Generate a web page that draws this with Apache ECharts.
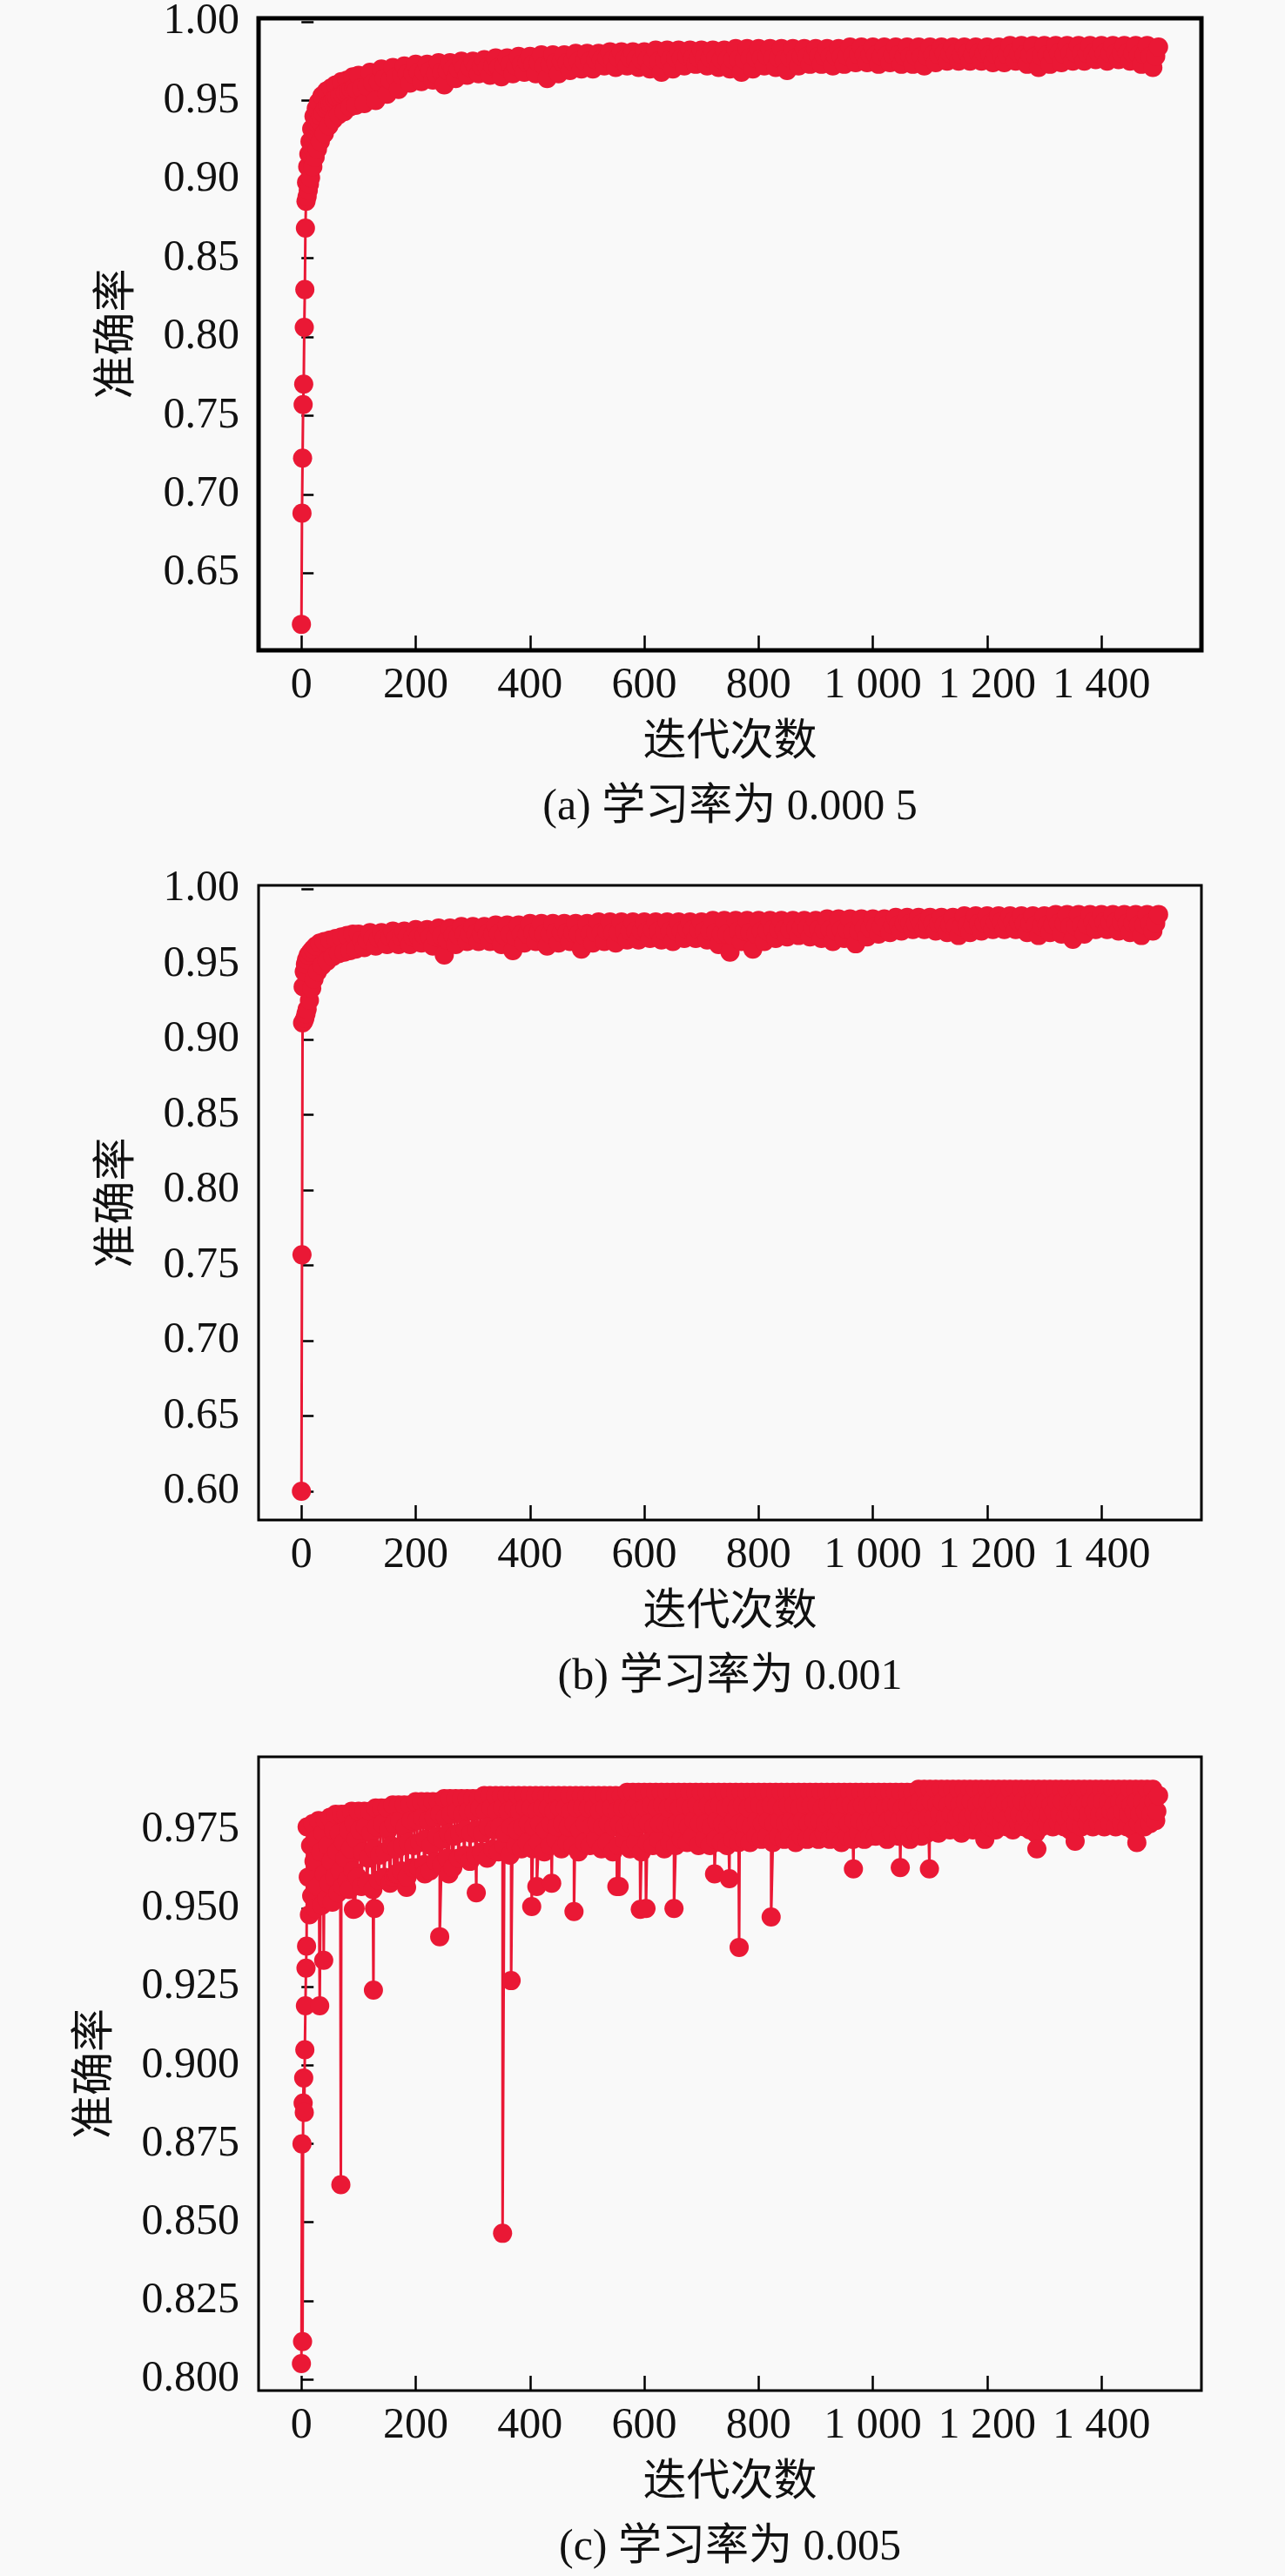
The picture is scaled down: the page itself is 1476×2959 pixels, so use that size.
<!DOCTYPE html>
<html>
<head>
<meta charset="utf-8">
<script src="https://cdn.jsdelivr.net/npm/echarts@6.0.0/dist/echarts.min.js"></script>
<style>
html,body{margin:0;padding:0;background:#f9f9f9;}
#chart{width:1476px;height:2959px;}
</style>
</head>
<body>
<div id="chart"></div>
<script>
// ---------- axis ticks ----------
const xTicks = [0, 200, 400, 600, 800, 1000, 1200, 1400];
const yTicksA = [0.65, 0.70, 0.75, 0.80, 0.85, 0.90, 0.95, 1.00];
const yTicksB = [0.60, 0.65, 0.70, 0.75, 0.80, 0.85, 0.90, 0.95, 1.00];
const yTicksC = [0.800, 0.825, 0.850, 0.875, 0.900, 0.925, 0.950, 0.975];

const xName = '迭代次数';
const yName = '准确率';
const captions = ['(a) 学习率为 0.000 5', '(b) 学习率为 0.001', '(c) 学习率为 0.005'];

// ---------- (a) learning rate 0.0005 ----------
const earlyA = [[0,0.6175],[1,0.688],[2,0.723],[3,0.757],[4,0.770],[5,0.806],[6,0.830],[7,0.869],
[8,0.886],[9,0.898],[10,0.889],[11,0.908],[12,0.893],[13,0.916],[14,0.897],[15,0.924],[16,0.901],
[17,0.915],[18,0.932],[19,0.920],[20,0.908],[21,0.925],[22,0.940],[23,0.928],[24,0.914],[25,0.930],
[26,0.945],[27,0.933],[28,0.919],[29,0.935],[30,0.949],[31,0.937],[33,0.924],[34,0.940],[36,0.953],
[38,0.942],[40,0.929],[42,0.945],[44,0.956],[46,0.947],[48,0.934],[50,0.948],[52,0.958],[54,0.949],
[56,0.938],[58,0.951],[60,0.960],[62,0.952],[65,0.941],[67,0.953],[70,0.962],[72,0.954],[75,0.943],
[77,0.955],[80,0.963],[82,0.956],[85,0.946],[87,0.957],[90,0.965],[92,0.958],[95,0.947],[97,0.957]];
// envelope points every 10 iterations from 100 (upper / lower alternately)
const bandStartA = 100, bandStepA = 10;
const bandAccA = [
0.966,0.948,0.968,0.950,0.970,0.954,0.971,0.957,0.972,0.961,
0.973,0.962,0.973,0.963,0.974,0.960,0.974,0.964,0.975,0.966,
0.975,0.967,0.976,0.966,0.977,0.965,0.977,0.967,0.978,0.968,
0.978,0.967,0.979,0.964,0.979,0.967,0.979,0.969,0.980,0.970,
0.980,0.970,0.980,0.972,0.981,0.971,0.981,0.972,0.981,0.971,
0.981,0.970,0.982,0.968,0.982,0.970,0.982,0.972,0.982,0.973,
0.982,0.972,0.982,0.971,0.982,0.970,0.983,0.968,0.983,0.970,
0.983,0.972,0.983,0.971,0.983,0.969,0.983,0.972,0.983,0.973,
0.983,0.973,0.983,0.972,0.983,0.973,0.984,0.974,0.984,0.974,
0.984,0.973,0.984,0.974,0.984,0.973,0.984,0.973,0.984,0.972,
0.984,0.974,0.984,0.975,0.984,0.975,0.984,0.975,0.984,0.975,
0.984,0.974,0.984,0.974,0.985,0.975,0.985,0.973,0.985,0.971,
0.985,0.973,0.985,0.974,0.985,0.975,0.985,0.975,0.985,0.976,
0.985,0.975,0.985,0.976,0.985,0.975,0.985,0.973,0.985,0.971,
0.984];
// band interior points at 105, 115, ... 1495
const midStartA = 105, midStepA = 10;
const midAccA = [
0.958,0.959,0.961,0.962,0.964,0.963,0.965,0.966,0.967,0.967,
0.968,0.968,0.969,0.967,0.968,0.969,0.970,0.970,0.971,0.971,
0.971,0.972,0.971,0.972,0.971,0.972,0.973,0.972,0.973,0.974,
0.973,0.974,0.972,0.973,0.974,0.975,0.974,0.975,0.975,0.975,
0.975,0.976,0.976,0.977,0.976,0.977,0.976,0.977,0.976,0.976,
0.976,0.976,0.975,0.976,0.976,0.977,0.977,0.978,0.977,0.977,
0.977,0.977,0.977,0.976,0.976,0.976,0.976,0.976,0.977,0.977,
0.977,0.978,0.977,0.977,0.976,0.977,0.977,0.978,0.978,0.978,
0.978,0.978,0.978,0.978,0.978,0.978,0.979,0.979,0.979,0.979,
0.979,0.978,0.979,0.979,0.979,0.978,0.978,0.978,0.978,0.978,
0.979,0.979,0.980,0.980,0.980,0.979,0.980,0.979,0.980,0.980,
0.979,0.979,0.979,0.979,0.980,0.980,0.979,0.979,0.978,0.978,
0.979,0.979,0.980,0.979,0.980,0.980,0.980,0.980,0.980,0.980,
0.980,0.980,0.980,0.980,0.980,0.980,0.979,0.979,0.978,0.978];

// ---------- (b) learning rate 0.001 ----------
const earlyB = [[0,0.600],[1,0.757],[2,0.911],[3,0.935],[4,0.912],[5,0.945],[6,0.914],[7,0.950],
[8,0.917],[9,0.953],[10,0.920],[12,0.956],[14,0.926],[16,0.958],[18,0.934],[20,0.960],[22,0.940],
[25,0.962],[28,0.945],[32,0.964],[36,0.949],[40,0.965],[45,0.952],[50,0.966],[55,0.955],[60,0.967],
[65,0.957],[70,0.968],[75,0.958],[80,0.969],[85,0.959],[90,0.970],[95,0.960]];
const bandStartB = 100, bandStepB = 10;
const bandAccB = [
0.970,0.961,0.971,0.962,0.971,0.963,0.972,0.963,0.972,0.963,
0.973,0.964,0.973,0.962,0.974,0.956,0.974,0.963,0.975,0.965,
0.975,0.965,0.975,0.965,0.976,0.963,0.976,0.959,0.976,0.964,
0.977,0.965,0.977,0.962,0.977,0.964,0.977,0.965,0.977,0.960,
0.977,0.964,0.978,0.965,0.978,0.964,0.978,0.966,0.978,0.966,
0.978,0.967,0.978,0.966,0.978,0.965,0.978,0.967,0.978,0.967,
0.978,0.966,0.979,0.963,0.979,0.958,0.979,0.965,0.979,0.960,
0.979,0.965,0.979,0.967,0.979,0.968,0.979,0.969,0.979,0.968,
0.979,0.967,0.980,0.965,0.980,0.967,0.980,0.9635,0.980,0.968,
0.980,0.970,0.980,0.971,0.981,0.972,0.981,0.973,0.981,0.973,
0.981,0.972,0.981,0.971,0.981,0.969,0.982,0.971,0.982,0.972,
0.982,0.973,0.982,0.973,0.982,0.973,0.982,0.971,0.982,0.969,
0.982,0.971,0.983,0.970,0.983,0.9665,0.983,0.970,0.983,0.973,
0.983,0.973,0.983,0.972,0.983,0.971,0.983,0.969,0.983,0.972,
0.983];
const midStartB = 105, midStepB = 10;
const midAccB = [
0.966,0.966,0.967,0.967,0.967,0.968,0.967,0.968,0.968,0.968,
0.968,0.969,0.968,0.968,0.969,0.966,0.969,0.969,0.970,0.970,
0.970,0.970,0.970,0.970,0.970,0.969,0.970,0.968,0.970,0.970,
0.971,0.971,0.970,0.970,0.971,0.971,0.971,0.971,0.970,0.969,
0.970,0.971,0.971,0.972,0.971,0.971,0.972,0.972,0.972,0.972,
0.972,0.973,0.972,0.972,0.972,0.972,0.972,0.973,0.973,0.973,
0.972,0.972,0.971,0.970,0.970,0.969,0.972,0.972,0.971,0.970,
0.972,0.972,0.973,0.973,0.973,0.973,0.974,0.974,0.974,0.974,
0.973,0.973,0.973,0.972,0.973,0.973,0.972,0.972,0.974,0.974,
0.975,0.975,0.976,0.976,0.976,0.977,0.977,0.977,0.977,0.977,
0.977,0.977,0.976,0.976,0.975,0.975,0.976,0.976,0.977,0.977,
0.977,0.978,0.978,0.978,0.978,0.978,0.977,0.977,0.976,0.975,
0.976,0.976,0.977,0.977,0.975,0.975,0.976,0.976,0.978,0.978,
0.978,0.978,0.978,0.978,0.977,0.977,0.976,0.976,0.977,0.977];

// ---------- (c) learning rate 0.005 ----------
const earlyC = [[0,0.805],[1,0.875],[2,0.812],[3,0.888],[4,0.896],[5,0.885],[6,0.905],[7,0.919],[8,0.931],[9,0.938],
[10,0.976],[12,0.960],[14,0.948],[16,0.970],[18,0.954],[20,0.977],[22,0.965],[24,0.950],[26,0.972],[28,0.957],
[30,0.978],[32,0.919],[34,0.968],[36,0.951],[38,0.974],[39,0.9335],[40,0.961],[42,0.978],[44,0.953],[46,0.970],
[48,0.958],[50,0.979],[52,0.965],[54,0.952],[56,0.975],[58,0.960],[60,0.980],[62,0.968],[64,0.955],[66,0.974],
[68,0.962],[69,0.862],[70,0.980],[72,0.957],[74,0.971],[76,0.966],[78,0.980],[80,0.959],[82,0.975],[84,0.956],
[86,0.969],[88,0.981],[90,0.962],[91,0.9497],[92,0.977],[94,0.950],[96,0.972],[98,0.960]];
// envelope points every 5 iterations from 100 (upper / lower alternately)
const bandStartC = 100, bandStepC = 5;
const bandAccC = [
0.981,0.957,0.981,0.958,0.981,0.956,0.982,0.959,0.982,0.960,0.982,0.958,0.983,0.961,0.983,0.962,0.983,0.960,0.983,0.963,
0.984,0.963,0.984,0.964,0.984,0.962,0.984,0.965,0.984,0.964,0.985,0.966,0.985,0.963,0.985,0.966,0.985,0.967,0.985,0.965,
0.985,0.967,0.985,0.968,0.986,0.966,0.986,0.969,0.986,0.968,0.986,0.970,0.986,0.967,0.986,0.970,0.986,0.969,0.986,0.971,
0.986,0.969,0.986,0.971,0.986,0.968,0.986,0.970,0.986,0.972,0.986,0.969,0.986,0.971,0.986,0.970,0.986,0.968,0.986,0.971,
0.986,0.970,0.986,0.972,0.986,0.969,0.986,0.971,0.986,0.968,0.986,0.970,0.986,0.972,0.987,0.969,0.987,0.971,0.987,0.968,
0.987,0.971,0.987,0.970,0.987,0.972,0.987,0.969,0.987,0.971,0.987,0.970,0.987,0.972,0.987,0.971,0.987,0.973,0.987,0.970,
0.987,0.972,0.987,0.970,0.987,0.972,0.987,0.971,0.987,0.970,0.987,0.972,0.987,0.971,0.987,0.972,0.987,0.971,0.987,0.973,
0.987,0.972,0.987,0.973,0.987,0.971,0.987,0.973,0.987,0.972,0.987,0.973,0.987,0.971,0.987,0.973,0.987,0.972,0.987,0.973,
0.987,0.972,0.987,0.974,0.987,0.972,0.987,0.973,0.987,0.971,0.987,0.973,0.987,0.972,0.987,0.974,0.987,0.972,0.987,0.973,
0.987,0.973,0.987,0.974,0.987,0.972,0.987,0.974,0.987,0.973,0.987,0.974,0.987,0.972,0.987,0.974,0.988,0.973,0.988,0.974,
0.988,0.975,0.988,0.974,0.988,0.976,0.988,0.975,0.988,0.976,0.988,0.974,0.988,0.976,0.988,0.975,0.988,0.976,0.988,0.975,
0.988,0.976,0.988,0.975,0.988,0.977,0.988,0.976,0.988,0.975,0.988,0.977,0.988,0.976,0.988,0.975,0.988,0.974,0.988,0.976,
0.988,0.977,0.988,0.976,0.988,0.977,0.988,0.976,0.988,0.975,0.988,0.977,0.988,0.976,0.988,0.977,0.988,0.976,0.988,0.977,
0.988,0.976,0.988,0.977,0.988,0.976,0.988,0.977,0.988,0.976,0.988,0.975,0.988,0.977,0.988,0.976,0.988,0.977,0.988,0.978,
0.986];
// band interior points at 102, 107, 112, ... 1497
const midStartC = 102, midStepC = 5;
const midAccC = [
0.975,0.968,0.976,0.966,0.974,0.969,0.976,0.967,0.977,0.968,0.975,0.970,0.977,0.969,0.978,0.970,0.976,0.971,0.978,0.970,
0.978,0.971,0.979,0.972,0.978,0.970,0.979,0.973,0.980,0.972,0.979,0.974,0.980,0.973,0.981,0.974,0.980,0.975,0.981,0.974,
0.981,0.975,0.982,0.974,0.981,0.976,0.982,0.975,0.981,0.976,0.982,0.974,0.981,0.976,0.982,0.975,0.981,0.976,0.982,0.977,
0.982,0.976,0.981,0.977,0.982,0.975,0.982,0.977,0.981,0.976,0.982,0.977,0.982,0.976,0.981,0.977,0.982,0.975,0.982,0.977,
0.982,0.976,0.982,0.977,0.981,0.976,0.982,0.977,0.982,0.976,0.981,0.977,0.982,0.976,0.982,0.977,0.982,0.976,0.981,0.977,
0.982,0.977,0.983,0.976,0.982,0.977,0.983,0.977,0.982,0.976,0.983,0.977,0.982,0.977,0.983,0.976,0.982,0.978,0.983,0.977,
0.982,0.977,0.983,0.976,0.982,0.978,0.983,0.977,0.982,0.976,0.983,0.978,0.982,0.977,0.983,0.977,0.982,0.976,0.983,0.978,
0.983,0.977,0.982,0.978,0.983,0.977,0.983,0.978,0.982,0.977,0.983,0.978,0.983,0.977,0.982,0.978,0.983,0.977,0.983,0.978,
0.983,0.978,0.982,0.977,0.983,0.978,0.983,0.977,0.982,0.978,0.983,0.977,0.983,0.978,0.982,0.978,0.983,0.977,0.983,0.978,
0.983,0.978,0.983,0.979,0.982,0.978,0.983,0.979,0.983,0.978,0.982,0.979,0.983,0.978,0.983,0.979,0.984,0.978,0.983,0.979,
0.984,0.979,0.983,0.980,0.984,0.979,0.983,0.980,0.984,0.979,0.983,0.980,0.984,0.979,0.984,0.980,0.983,0.979,0.984,0.980,
0.984,0.980,0.983,0.979,0.984,0.980,0.984,0.979,0.983,0.980,0.984,0.980,0.984,0.979,0.983,0.980,0.984,0.979,0.984,0.980,
0.984,0.980,0.983,0.981,0.984,0.980,0.984,0.979,0.983,0.980,0.984,0.981,0.984,0.980,0.983,0.980,0.984,0.981,0.984,0.980,
0.984,0.980,0.984,0.981,0.983,0.980,0.984,0.981,0.984,0.980,0.983,0.981,0.984,0.980,0.984,0.981,0.983,0.980,0.984,0.981];
// isolated drops
const dipsC = [[126,0.924],[128,0.950],[162,0.960],[168,0.961],[184,0.9567],[216,0.961],[242,0.941],[258,0.961],
[306,0.955],[352,0.8465],[367,0.927],[403,0.9506],[412,0.957],[438,0.958],[477,0.949],[552,0.957],[556,0.957],
[593,0.9497],[603,0.950],[652,0.950],[723,0.961],[749,0.9595],[766,0.9376],[822,0.9473],[966,0.9626],[1048,0.963],
[1099,0.9626],[1196,0.972],[1287,0.969],[1354,0.9714],[1462,0.971]];

// ---------- build ----------
function buildSeries(early, runs, dips) {
  const pts = early.map(p => [p[0], p[1]]);
  runs.forEach(r => r.values.forEach((v, i) => pts.push([r.start + i * r.step, v])));
  (dips || []).forEach(p => pts.push([p[0], p[1]]));
  pts.sort((a, b) => a[0] - b[0]);
  return pts;
}
const dataA = buildSeries(earlyA, [
  {start: bandStartA, step: bandStepA, values: bandAccA},
  {start: midStartA, step: midStepA, values: midAccA}]);
const dataB = buildSeries(earlyB, [
  {start: bandStartB, step: bandStepB, values: bandAccB},
  {start: midStartB, step: midStepB, values: midAccB}]);
const dataC = buildSeries(earlyC, [
  {start: bandStartC, step: bandStepC, values: bandAccC},
  {start: midStartC, step: midStepC, values: midAccC}], dipsC);

const FONT = '"Liberation Serif", "Times New Roman", "Noto Sans CJK SC", serif';
const TXT = '#111';
const RED = '#ea1835';
const gridLeft = 297, gridRight = 96;
const panels = [
  {top: 20,   height: 727, min: 0.601,  max: 1.0022,  ticks: yTicksA, dec: 2, bw: 5, data: dataA, yNameX: 136},
  {top: 1017, height: 729, min: 0.5809, max: 1.0023,  ticks: yTicksB, dec: 2, bw: 3, data: dataB, yNameX: 136},
  {top: 2018, height: 728, min: 0.7964, max: 0.99831, ticks: yTicksC, dec: 3, bw: 3, data: dataC, yNameX: 111}
];
const fmtX = v => String(v).replace(/\B(?=(\d{3})+(?!\d))/g, ' ');
const plotCenterX = gridLeft + (1476 - gridLeft - gridRight) / 2;

const option = {
  animation: false,
  backgroundColor: '#f9f9f9',
  grid: panels.map(p => ({left: gridLeft, right: gridRight, top: p.top, height: p.height,
    show: true, borderColor: '#000', borderWidth: p.bw, backgroundColor: 'transparent'})),
  xAxis: panels.map((p, i) => ({
    gridIndex: i, type: 'value', min: -75, max: 1575,
    axisLine: {show: false}, splitLine: {show: false},
    axisTick: {show: true, inside: true, length: 17, customValues: xTicks, lineStyle: {color: '#000', width: 2.5}},
    axisLabel: {show: true, customValues: xTicks, margin: 16, formatter: fmtX,
      fontFamily: FONT, fontSize: 50, color: TXT}
  })),
  yAxis: panels.map((p, i) => ({
    gridIndex: i, type: 'value', min: p.min, max: p.max,
    axisLine: {show: false}, splitLine: {show: false},
    axisTick: {show: true, inside: true, length: 14, customValues: p.ticks, lineStyle: {color: '#000', width: 2.5}},
    axisLabel: {show: true, customValues: p.ticks, margin: 22, formatter: v => Number(v).toFixed(p.dec),
      fontFamily: FONT, fontSize: 50, color: TXT}
  })),
  series: panels.map((p, i) => ({
    type: 'line', xAxisIndex: i, yAxisIndex: i, data: p.data,
    symbol: 'circle', symbolSize: 22, showAllSymbol: true, silent: true,
    lineStyle: {color: RED, width: 3},
    itemStyle: {color: RED, borderWidth: 0}
  })),
  graphic: panels.flatMap((p, i) => {
    const bottom = p.top + p.height;
    return [
      {type: 'text', x: plotCenterX, y: bottom + 107, silent: true,
        style: {text: xName, font: '50px ' + FONT, fill: TXT, align: 'center', verticalAlign: 'middle'}},
      {type: 'text', x: plotCenterX, y: bottom + 181, silent: true,
        style: {text: captions[i], font: '50px ' + FONT, fill: TXT, align: 'center', verticalAlign: 'middle'}},
      {type: 'text', x: p.yNameX, y: p.top + p.height / 2, rotation: Math.PI / 2, silent: true,
        style: {text: yName, font: '50px ' + FONT, fill: TXT, align: 'center', verticalAlign: 'middle'}}
    ];
  })
};

const chart = echarts.init(document.getElementById('chart'), null, {renderer: 'canvas'});
chart.setOption(option);
</script>
</body>
</html>
